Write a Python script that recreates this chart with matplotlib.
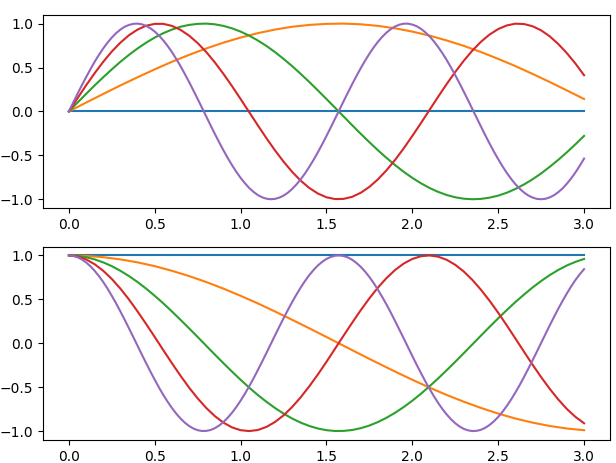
import matplotlib
matplotlib.use("Agg")
import matplotlib.pyplot as plt

# sample positions
x_coarse = [0.0, 0.1, 0.2, 0.3, 0.4, 0.5, 0.6, 0.7, 0.8, 0.9, 1.0,
            1.1, 1.2, 1.3, 1.4, 1.5, 1.6, 1.7, 1.8, 1.9, 2.0,
            2.1, 2.2, 2.3, 2.4, 2.5, 2.6, 2.7, 2.8, 2.9, 3.0]
x_fine = [0.0, 0.05, 0.1, 0.15, 0.2, 0.25, 0.3, 0.35, 0.4, 0.45, 0.5,
          0.55, 0.6, 0.65, 0.7, 0.75, 0.8, 0.85, 0.9, 0.95, 1.0,
          1.05, 1.1, 1.15, 1.2, 1.25, 1.3, 1.35, 1.4, 1.45, 1.5,
          1.55, 1.6, 1.65, 1.7, 1.75, 1.8, 1.85, 1.9, 1.95, 2.0,
          2.05, 2.1, 2.15, 2.2, 2.25, 2.3, 2.35, 2.4, 2.45, 2.5,
          2.55, 2.6, 2.65, 2.7, 2.75, 2.8, 2.85, 2.9, 2.95, 3.0]
x_finest = [0.0, 0.025, 0.05, 0.075, 0.1, 0.125, 0.15, 0.175, 0.2, 0.225,
            0.25, 0.275, 0.3, 0.325, 0.35, 0.375, 0.4, 0.425, 0.45, 0.475,
            0.5, 0.525, 0.55, 0.575, 0.6, 0.625, 0.65, 0.675, 0.7, 0.725,
            0.75, 0.775, 0.8, 0.825, 0.85, 0.875, 0.9, 0.925, 0.95, 0.975,
            1.0, 1.025, 1.05, 1.075, 1.1, 1.125, 1.15, 1.175, 1.2, 1.225,
            1.25, 1.275, 1.3, 1.325, 1.35, 1.375, 1.4, 1.425, 1.45, 1.475,
            1.5, 1.525, 1.55, 1.575, 1.6, 1.625, 1.65, 1.675, 1.7, 1.725,
            1.75, 1.775, 1.8, 1.825, 1.85, 1.875, 1.9, 1.925, 1.95, 1.975,
            2.0, 2.025, 2.05, 2.075, 2.1, 2.125, 2.15, 2.175, 2.2, 2.225,
            2.25, 2.275, 2.3, 2.325, 2.35, 2.375, 2.4, 2.425, 2.45, 2.475,
            2.5, 2.525, 2.55, 2.575, 2.6, 2.625, 2.65, 2.675, 2.7, 2.725,
            2.75, 2.775, 2.8, 2.825, 2.85, 2.875, 2.9, 2.925, 2.95, 2.975,
            3.0]

# top panel (sin), bottom panel (cos)
sin0 = [0.0] * 31
cos0 = [1.0] * 31

sin1 = [0, .100, .199, .296, .389, .479, .565, .644, .717, .783, .841,
        .891, .932, .964, .985, .997, 1.000, .992, .974, .946, .909,
        .863, .808, .746, .676, .598, .516, .427, .335, .239, .141]
cos1 = [1, .995, .980, .955, .921, .878, .825, .765, .697, .622, .540,
        .454, .362, .267, .170, .071, -.029, -.129, -.227, -.323, -.416,
        -.505, -.589, -.666, -.737, -.801, -.857, -.904, -.942, -.971, -.990]

sin2 = [0, .100, .199, .296, .389, .479, .565, .644, .717, .783, .841,
        .891, .932, .964, .985, .997, 1.000, .992, .974, .946, .909,
        .863, .808, .746, .676, .598, .516, .427, .335, .239, .141,
        .042, -.058, -.158, -.256, -.351, -.443, -.530, -.612, -.688, -.757,
        -.818, -.872, -.916, -.952, -.978, -.994, -1.000, -.996, -.982, -.959,
        -.926, -.883, -.832, -.773, -.706, -.631, -.551, -.465, -.374, -.279]
cos2 = [1, .995, .980, .955, .921, .878, .825, .765, .697, .622, .540,
        .454, .362, .267, .170, .071, -.029, -.129, -.227, -.323, -.416,
        -.505, -.589, -.666, -.737, -.801, -.857, -.904, -.942, -.971, -.990,
        -.999, -.998, -.988, -.967, -.937, -.897, -.848, -.791, -.726, -.654,
        -.575, -.490, -.401, -.307, -.211, -.112, -.012, .088, .187, .284,
        .378, .469, .554, .635, .709, .776, .835, .886, .927, .960]

sin3 = [0, .149, .296, .435, .565, .682, .783, .868, .932, .976, .997,
        .997, .974, .929, .863, .778, .676, .558, .427, .288, .141,
        -.008, -.158, -.304, -.443, -.572, -.688, -.789, -.872, -.935, -.978,
        -.998, -.996, -.972, -.926, -.859, -.773, -.669, -.551, -.420, -.279,
        -.133, .017, .166, .312, .450, .578, .694, .794, .876, .938,
        .979, .999, .995, .970, .923, .855, .767, .663, .544, .412]
cos3 = [1, .989, .955, .900, .825, .732, .622, .498, .362, .219, .071,
        -.079, -.227, -.370, -.505, -.628, -.737, -.830, -.904, -.958, -.990,
        -1.000, -.988, -.953, -.897, -.821, -.726, -.615, -.490, -.355, -.211,
        -.062, .088, .235, .378, .512, .635, .743, .835, .908, .960,
        .991, 1.000, .986, .950, .893, .816, .720, .608, .483, .347,
        .203, .054, -.096, -.244, -.386, -.519, -.641, -.749, -.839, -.911]

sin4 = [0, .100, .199, .296, .389, .479, .565, .644, .717, .783, .841,
        .891, .932, .964, .985, .997, 1.000, .992, .974, .946, .909,
        .863, .808, .746, .676, .598, .516, .427, .335, .239, .141,
        .042, -.058, -.158, -.256, -.351, -.443, -.530, -.612, -.688, -.757,
        -.818, -.872, -.916, -.952, -.978, -.994, -1.000, -.996, -.982, -.959,
        -.926, -.883, -.832, -.773, -.706, -.631, -.551, -.465, -.374, -.279,
        -.182, -.083, .017, .117, .215, .312, .405, .494, .578, .657,
        .729, .794, .850, .899, .938, .968, .988, .999, .999, .989,
        .970, .941, .902, .855, .799, .734, .663, .585, .501, .412,
        .319, .223, .125, .025, -.075, -.174, -.272, -.367, -.458, -.544,
        -.625, -.700, -.768, -.828, -.880, -.923, -.957, -.981, -.996, -1.000,
        -.995, -.979, -.954, -.919, -.876, -.823, -.762, -.694, -.618, -.537]
cos4 = [1, .995, .980, .955, .921, .878, .825, .765, .697, .622, .540,
        .454, .362, .267, .170, .071, -.029, -.129, -.227, -.323, -.416,
        -.505, -.589, -.666, -.737, -.801, -.857, -.904, -.942, -.971, -.990,
        -.999, -.998, -.988, -.967, -.937, -.897, -.848, -.791, -.726, -.654,
        -.575, -.490, -.401, -.307, -.211, -.112, -.012, .088, .187, .284,
        .378, .469, .554, .635, .709, .776, .835, .886, .927, .960,
        .983, .997, 1.000, .993, .977, .950, .914, .869, .816, .754,
        .685, .608, .526, .439, .347, .251, .153, .054, -.046, -.146,
        -.244, -.339, -.431, -.519, -.602, -.679, -.749, -.811, -.865, -.911,
        -.948, -.975, -.992, -1.000, -.997, -.985, -.962, -.930, -.889, -.839,
        -.781, -.714, -.641, -.561, -.476, -.385, -.291, -.194, -.096, .004,
        .104, .203, .300, .394, .483, .568, .648, .721, .786, .844]

fig = plt.figure(figsize=(6.16, 4.63), dpi=100)

ax1 = fig.add_subplot(2, 1, 1)
ax1.plot(x_coarse, sin0)
ax1.plot(x_coarse, sin1)
ax1.plot(x_fine, sin2)
ax1.plot(x_fine, sin3)
ax1.plot(x_finest, sin4)

ax2 = fig.add_subplot(2, 1, 2)
ax2.plot(x_coarse, cos0)
ax2.plot(x_coarse, cos1)
ax2.plot(x_fine, cos2)
ax2.plot(x_fine, cos3)
ax2.plot(x_finest, cos4)

for ax in (ax1, ax2):
    ax.set_yticks([-1.0, -0.5, 0.0, 0.5, 1.0])
    ax.set_xticks([0.0, 0.5, 1.0, 1.5, 2.0, 2.5, 3.0])

plt.subplots_adjust(left=0.07, right=0.99, top=0.968, bottom=0.05, hspace=0.2)
plt.savefig("out.png", dpi=100)
